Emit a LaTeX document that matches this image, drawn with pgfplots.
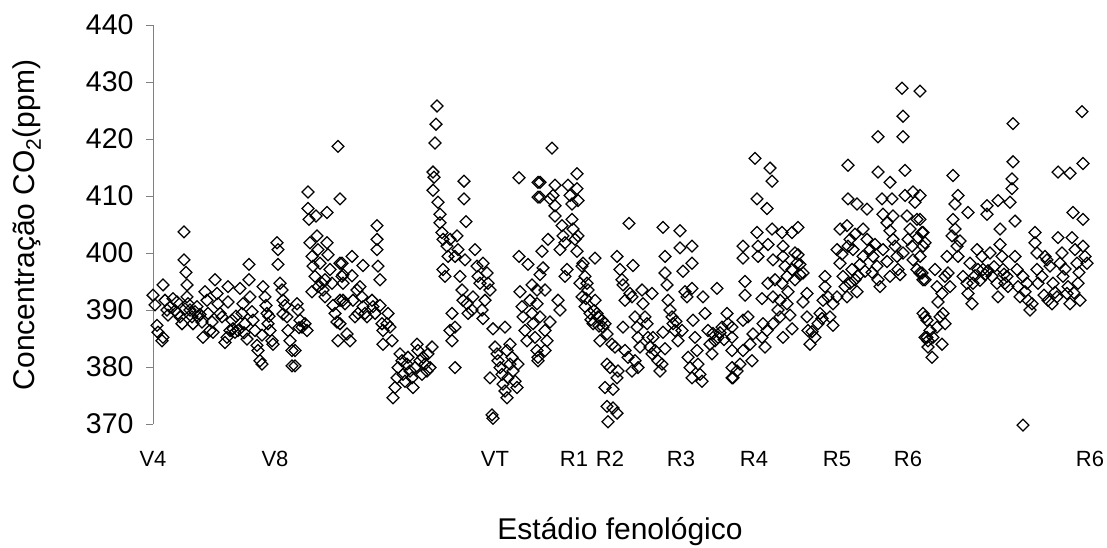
\documentclass[border=0pt]{standalone}
\usepackage{fontspec}
\setmainfont{Liberation Sans}
\usepackage{pgfplots}
\pgfplotsset{compat=1.18}
\begin{document}
\begin{tikzpicture}[x=1pt,y=1pt]
\useasboundingbox (0,0) rectangle (1107,547);
\begin{axis}[
  at={(153pt,123pt)}, anchor=south west,
  scale only axis, width=942pt, height=399pt,
  xmin=153, xmax=1095, ymin=370, ymax=440,
  axis y line=left, axis x line=bottom,
  x axis line style={draw=none},
  y axis line style={-, draw=gray, line width=1pt},
  ytick={370,380,...,440},
  tick align=outside, major tick length=7pt,
  ytick style={draw=gray, line width=1pt},
  xtick={153,275,495,574,610,681,754,837,908,1090},
  xticklabels={V4,V8,VT,R1,R2,R3,R4,R5,R6,R6},
  xtick style={draw=none},
  xticklabel style={font=\fontsize{22}{24}\selectfont, yshift=-17pt},
  yticklabel style={font=\fontsize{28.5}{30}\selectfont, xshift=-9pt},
  /pgf/number format/assume math mode=true,
  clip=false,
]
\addplot[only marks, mark=square, mark size=4.2pt, mark options={rotate=45, line width=1.25pt, draw=black, fill=none}] coordinates {
(153,392.6)(155,390.9)(163,394.4)(165,391.7)(157,387.3)(158,386.1)(162,384.6)(163,385.2)(167,390.0)(168,389.1)
(173,392.0)(177,391.4)(178,389.4)(180,388.8)(182,387.6)(184,403.7)(184,398.8)(186,396.6)(187,394.4)(187,392.3)(188,391.1)(190,390.0)(192,388.8)(193,387.6)(195,389.7)
(198,388.8)(202,387.9)(203,385.2)(205,393.2)(207,391.7)(208,389.4)(210,386.4)(212,387.9)(213,386.1)(215,395.3)(217,392.9)(218,391.1)(220,389.4)(222,388.8)(225,384.3)(227,385.2)(228,394.1)(228,391.4)
(230,386.4)(232,388.2)(233,386.7)(235,386.1)(238,386.4)(240,393.8)(242,389.4)(243,391.1)(245,387.6)(247,384.9)(249,398.0)(249,395.3)(250,392.3)(252,389.7)(253,388.2)(255,386.4)(257,383.8)(258,382.9)(260,381.1)(262,380.5)(263,394.1)(265,392.3)(266,390.8)(267,389.4)(268,387.6)(270,386.4)(272,384.6)(273,384.0)(277,401.8)(278,400.6)(278,398.0)(280,394.7)(282,393.5)(283,391.7)(285,390.8)(287,388.8)(288,386.4)(290,384.6)(292,382.9)(292,380.2)(295,382.9)(295,380.2)(297,391.1)(298,390.0)(300,388.2)(302,387.0)(305,387.6)(307,386.4)
(170,390.5)(175,389.9)(185,390.2)(197,390.6)(200,389.2)(236,388.9)(244,386.0)(262,385.6)(269,388.9)(283,389.3)(299,386.9)
(308,410.7)(308,407.8)(309,405.9)(316,406.5)(327,407.1)(310,401.8)(312,399.4)(313,397.7)(315,395.9)(317,403.0)(318,400.6)(320,398.2)(322,394.7)(323,393.5)(325,392.3)(327,401.8)(328,399.7)(330,397.1)(332,394.7)(333,390.8)(335,389.4)(337,387.9)(338,384.6)(340,398.2)(342,395.9)(338,418.7)(340,409.5)(312,393.2)(318,394.1)(325,395.3)(343,391.7)
(342,398.2)(343,396.2)(343,394.7)(352,399.4)(352,396.0)(363,397.8)(340,391.7)(345,391.1)(353,391.7)(357,393.5)(360,394.1)(362,392.3)(363,390.6)(365,389.4)(367,388.8)(372,391.7)(373,390.6)(375,389.4)(377,404.8)(377,402.4)(377,400.6)(378,397.7)(380,395.3)(380,390.8)(382,387.6)(383,386.4)(387,387.6)(388,389.4)(390,387.0)(392,384.6)(383,384.0)(350,384.6)(347,385.8)(340,387.6)(355,388.8)(358,389.4)
(393,374.6)(395,376.4)(397,378.1)(398,379.9)(400,382.3)(402,381.1)(403,378.7)(405,377.5)(407,380.5)(408,381.7)(410,379.3)(412,378.1)(413,376.4)(415,379.9)(417,384.0)(418,382.9)(420,381.1)(422,378.7)(423,381.7)(425,380.5)(427,379.3)(428,382.3)(430,379.9)(432,383.5)
(437,425.8)(436,422.6)(435,419.3)(433,414.2)(434,413.3)(433,411.0)(438,408.9)(440,406.8)(440,405.3)(442,403.6)(443,402.4)(447,401.2)(448,399.4)(450,402.4)(457,403.0)(458,400.6)(455,399.4)(460,395.9)(464,412.6)(464,409.5)(466,405.5)(443,397.1)(445,395.9)(462,393.5)(463,391.7)(467,391.1)(468,389.4)(465,398.8)(475,400.6)(477,397.7)(478,395.9)(480,394.7)(483,398.2)(487,396.5)(488,394.7)(490,393.5)(485,391.7)(482,390.0)(483,388.5)(473,392.3)(472,390.0)(452,389.4)(450,386.4)(452,384.6)(455,387.0)(455,379.9)
(493,386.7)(505,387.0)(495,383.5)(497,382.3)(498,381.1)(500,379.9)(502,378.7)(503,377.0)(505,375.8)(507,374.6)(508,378.1)(510,380.5)(512,381.7)(513,379.3)(515,377.5)(517,376.4)(518,380.5)(490,378.1)(492,371.6)(493,371.0)(507,382.9)(510,384.0)
(519,413.2)(538,412.4)(538,409.8)(519,399.4)(528,398.0)(532,394.4)(520,393.2)(522,390.6)(523,388.8)(525,386.4)(527,384.6)(530,391.7)(532,389.4)(533,387.6)(535,385.2)(537,382.9)(538,381.1)(540,388.8)(537,393.5)
(540,412.4)(540,409.8)(552,418.4)(555,411.9)(553,410.1)(555,408.3)(555,406.5)(550,409.5)(568,411.9)(570,410.1)(572,408.6)(577,413.9)(577,411.3)(578,409.2)(572,405.9)(573,404.2)(575,402.4)(562,404.8)(563,403.0)(560,400.6)(565,401.8)(548,402.4)(542,400.3)(543,397.4)(540,396.2)(545,393.5)(537,391.1)(545,386.4)(547,384.6)(545,382.9)(538,381.7)(550,387.9)(558,391.7)(560,390.0)(567,397.1)(565,395.9)(577,400.3)(578,403.0)(582,397.7)(583,398.2)(585,395.9)(587,394.7)(588,393.5)(580,394.7)(582,392.3)(585,390.6)(590,389.4)(593,387.6)(595,391.7)(597,389.4)(598,388.8)(602,388.2)(603,387.0)(605,387.6)(607,385.8)(600,384.6)(607,380.5)(610,379.9)(612,384.0)(615,383.5)(617,378.1)(618,379.3)(605,376.4)(613,376.1)(607,373.1)(613,372.8)(617,371.9)(608,370.4)
(591,388.3)(594,389.9)(599,387.2)(586,392.0)
(595,399.1)(617,399.4)(620,397.1)(622,395.3)(623,394.4)(625,391.7)(630,392.9)(633,397.8)(629,405.2)(632,392.3)(642,393.5)(643,391.1)(645,388.8)(647,387.6)(648,385.2)(650,383.5)(652,382.3)(653,385.2)(635,388.8)(637,387.0)(638,385.2)(640,383.5)(623,387.0)(625,382.9)(628,381.7)(632,379.3)(635,381.1)(638,379.9)(652,392.9)(655,382.9)(658,381.1)(660,379.3)(662,380.5)(663,386.1)(665,383.2)
(663,404.5)(665,399.4)(665,396.5)(667,394.4)(668,391.7)(670,390.0)(672,388.8)(673,387.6)(675,386.4)(678,384.6)(682,386.4)(680,403.9)(680,400.9)(692,401.2)(692,398.2)(683,396.8)(685,393.2)(687,392.3)(692,393.8)(703,392.3)(717,393.8)(693,388.2)(695,385.2)(697,382.9)(698,380.5)(700,378.7)(702,377.5)(688,381.7)(690,379.9)(692,378.1)(705,389.4)(708,386.4)(710,384.0)(712,382.3)(715,384.6)(718,385.2)(722,387.0)(727,389.4)(728,387.6)(732,385.2)(732,379.9)(732,378.1)
(720,386.0)(724,384.8)(713,385.9)(676,388.0)
(755,416.6)(770,414.9)(772,412.6)(757,409.5)(767,407.8)(772,404.2)(782,403.6)(792,403.6)(798,404.5)(757,403.6)(743,401.2)(743,399.1)(758,401.2)(758,399.4)(768,401.5)(773,398.8)(783,401.2)(783,399.4)(785,397.7)(795,400.0)(797,398.2)(798,399.7)(800,398.0)(800,396.2)(745,395.0)(745,392.6)(762,392.0)(768,394.7)(775,395.3)(773,392.3)(780,391.7)(782,394.7)(787,395.9)(788,393.2)(792,397.1)(795,395.3)(803,396.5)(807,392.9)(803,391.4)(787,391.1)(778,390.0)(780,388.8)(790,389.1)(792,386.7)(783,385.2)(773,387.6)(767,386.4)(763,387.6)(762,385.2)(765,383.5)(753,385.8)(750,384.0)(752,381.1)(743,388.2)(743,382.9)(740,380.5)(737,379.3)(733,378.1)(732,382.9)(732,387.0)(748,388.8)
(807,388.8)(808,386.4)(810,384.0)(815,385.2)(818,387.6)(820,389.4)(823,391.7)(825,394.1)(825,395.9)(828,392.3)(830,388.8)(833,387.3)(833,391.1)(837,392.3)(837,400.6)(840,398.2)(843,395.9)(845,394.1)(847,392.3)(850,394.7)(852,397.1)(855,395.3)(857,393.2)(840,404.2)(847,404.8)(855,403.3)(848,409.5)(848,415.4)(857,408.6)(867,407.7)(863,404.2)(867,402.4)(870,400.6)(873,399.4)(877,397.7)(878,395.3)(880,394.1)(863,399.4)(865,396.8)(860,398.0)(853,400.6)(848,401.2)(850,402.4)
(812,386.2)(822,388.5)(842,399.8)(858,396.0)(872,396.6)(875,401.5)
(878,414.2)(878,420.4)(890,412.4)(882,409.5)(883,406.8)(887,405.3)(890,403.9)(893,402.4)(895,401.2)(897,399.4)(898,397.1)(900,396.2)(883,400.6)(887,398.5)(890,395.9)(892,409.5)(893,406.5)(902,428.9)(903,424.0)(903,420.4)(905,414.5)(920,428.4)(905,410.1)(913,410.7)(915,408.9)(907,406.5)(910,404.2)(917,405.9)(908,402.4)(912,401.2)(918,402.7)(922,403.6)(923,401.2)(913,398.8)(917,397.1)(920,396.5)(923,395.3)(903,400.0)(925,388.8)(927,385.2)(928,383.5)
(920,410.1)(920,405.9)(923,403.6)(925,401.8)(920,399.4)(922,396.5)(925,395.3)(923,389.4)(927,388.2)(930,386.4)(933,385.2)(937,387.0)(940,388.8)(943,389.4)(945,387.6)(942,384.0)(932,381.7)(928,384.6)(925,385.2)(935,397.1)(937,394.1)(938,391.4)(942,392.9)(945,395.9)(947,399.4)(948,396.5)(950,394.1)(953,413.6)(958,410.1)(955,408.6)(953,405.9)(955,404.2)(952,403.0)(957,401.2)(958,399.4)(960,402.1)(968,407.1)(963,395.9)(967,394.7)(968,392.9)(970,398.2)(972,391.1)(973,394.7)(977,400.6)(978,397.1)(982,399.4)(983,397.1)(985,396.2)(987,408.3)(987,406.8)(990,400.0)(992,395.9)(997,394.7)(998,392.3)(998,409.2)(1000,404.2)(1000,401.5)(1002,399.4)(1003,397.1)(1005,394.7)(1007,395.9)(1008,394.1)
(975,396.0)(980,395.2)(988,396.9)(994,397.6)(1004,396.3)
(1010,408.9)(1012,411.3)(1012,413.0)(1013,416.0)(1013,422.7)(1015,405.6)(1015,399.4)(1017,397.1)(1018,394.1)(1020,392.3)(1023,395.9)(1027,394.7)(1028,391.7)(1030,390.0)(1032,391.1)(1035,403.6)(1035,401.8)(1037,400.0)(1037,397.1)(1038,394.7)(1042,395.9)(1045,399.4)(1047,398.8)(1050,397.7)(1048,391.7)(1052,391.1)(1053,394.7)(1057,392.3)(1058,402.7)(1060,398.2)(1062,400.0)(1063,395.9)(1067,392.9)(1068,394.1)(1070,391.1)(1072,402.7)(1073,407.1)(1075,400.6)(1077,398.2)(1078,394.7)(1080,391.7)(1083,405.9)(1083,401.2)(1085,399.4)(1087,398.2)(1070,414.0)(1058,414.2)(1083,415.7)(1082,424.8)(1023,369.8)
(1025,393.2)(1044,392.6)(1055,393.1)(1065,397.2)(1074,393.0)(1079,396.6)
};
\end{axis}
\node[rotate=90, font=\fontsize{30}{32}\selectfont] at (27,322) {Concentração CO\textsubscript{2}(ppm)};
\node[anchor=base, font=\fontsize{30}{32}\selectfont] at (620,8) {Estádio fenológico};
\end{tikzpicture}
\end{document}
